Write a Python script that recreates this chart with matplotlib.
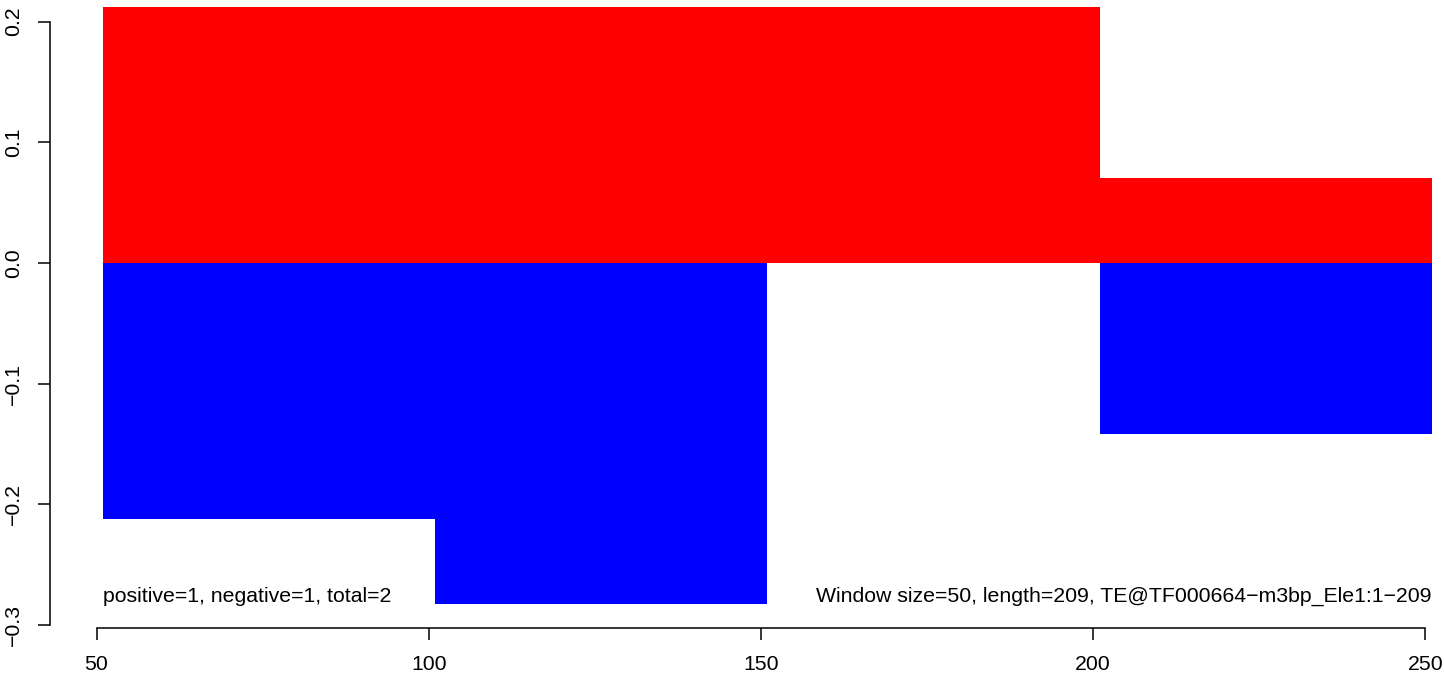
import matplotlib
matplotlib.use("Agg")
import matplotlib.pyplot as plt

# ---- data ----
window_starts = [51, 101, 151, 201]
window_width = 50
positive_vals = [0.2121, 0.2121, 0.2121, 0.0707]
negative_vals = [-0.2121, -0.2828, 0.0, -0.1414]
x_ticks = [50, 100, 150, 200, 250]
x_tick_labels = ["50", "100", "150", "200", "250"]
y_ticks = [-0.3, -0.2, -0.1, 0.0, 0.1, 0.2]
y_tick_labels = ["\u22120.3", "\u22120.2", "\u22120.1", "0.0", "0.1", "0.2"]
left_note = "positive=1, negative=1, total=2"
right_note = "Window size=50, length=209, TE@TF000664\u2212m3bp_Ele1:1\u2212209"

plt.rcParams["font.family"] = ["Liberation Sans", "DejaVu Sans"]

W, H = 1444, 674
fig = plt.figure(figsize=(W / 100, H / 100), dpi=100)

# plot region in pixels (extends beyond the cropped figure top/right)
left_px, right_px, top_px, bottom_px = 50, 1485, -17, 628.3
ax = fig.add_axes([left_px / W, (H - bottom_px) / H,
                   (right_px - left_px) / W, (bottom_px - top_px) / H])

ax.bar(window_starts, positive_vals, width=window_width, align="edge",
       color="#FF0000", linewidth=0)
ax.bar(window_starts, negative_vals, width=window_width, align="edge",
       color="#0000FF", linewidth=0)

ax.set_xlim(43, 259)
ax.set_ylim(-0.3026, 0.2319)

for s in ["top", "right"]:
    ax.spines[s].set_visible(False)
for s in ["left", "bottom"]:
    ax.spines[s].set_linewidth(1.1)
ax.spines["left"].set_bounds(-0.3, 0.2)
ax.spines["bottom"].set_bounds(50, 250)

FS = 15.3
ax.set_xticks(x_ticks)
ax.set_xticklabels(x_tick_labels)
ax.set_yticks(y_ticks)
ax.set_yticklabels(y_tick_labels, rotation=90, va="center", ha="right")
ax.tick_params(axis="both", direction="out", length=8.8, width=1.1,
               labelsize=FS, colors="black")
ax.tick_params(axis="x", pad=10.5)
ax.tick_params(axis="y", pad=10.5)

ax.text(51, -0.281, left_note, ha="left", va="baseline", fontsize=FS)
ax.text(251, -0.281, right_note, ha="right", va="baseline", fontsize=FS)

fig.savefig("out.png", dpi=100)
